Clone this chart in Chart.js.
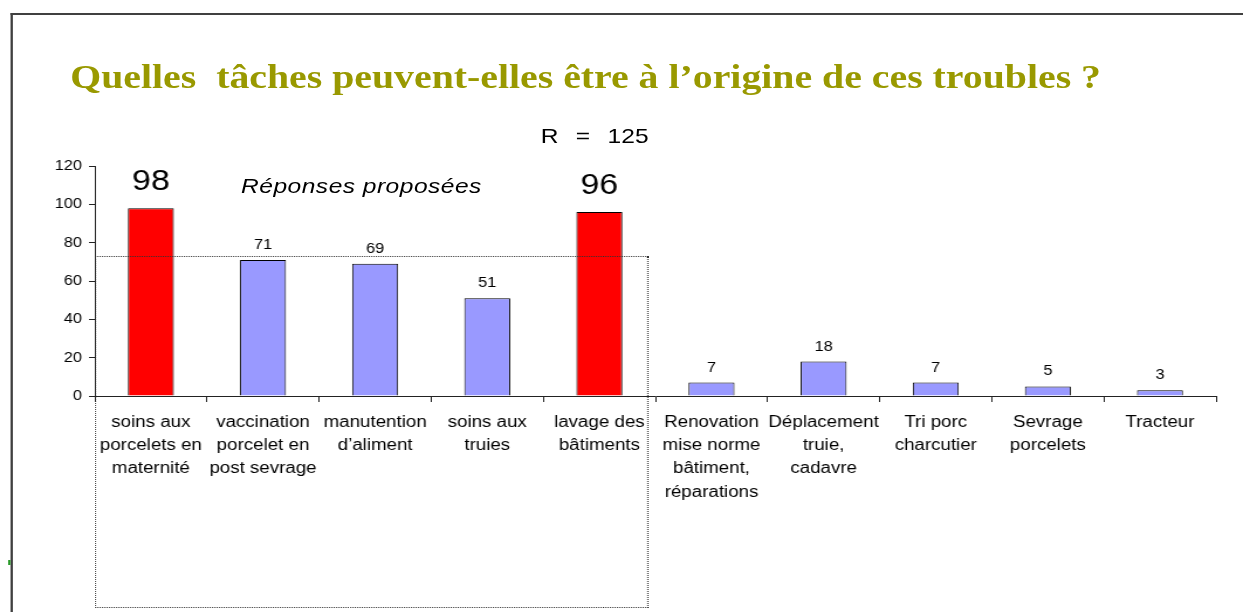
<!DOCTYPE html>
<html>
<head>
<meta charset="utf-8">
<script src="https://cdn.jsdelivr.net/npm/chart.js@4"></script>
<style>
  html, body { margin: 0; padding: 0; background: #fff; overflow: hidden; }
  /* la diapositive d'origine est étirée horizontalement : on reproduit l'étirement */
  #slide {
    position: absolute; left: 0; top: 0;
    width: 1062px; height: 612px;
    transform: scaleX(1.1704); transform-origin: 0 0;
  }
  #frame {
    position: absolute; left: 8.5px; top: 13px; width: 1100px; height: 700px;
    border-left: 2px solid #404040; border-top: 2px solid #404040;
  }
  #mark { position: absolute; left: 7px; top: 560px; width: 2px; height: 5px; background: #2a9a2a; }
  #title {
    position: absolute; left: 60px; top: 60px; white-space: nowrap;
    font-family: "Liberation Serif", serif; font-weight: bold; font-size: 34px; line-height: 1;
    color: #999900;
  }
  #resp {
    position: absolute; left: 462px; top: 125px; white-space: nowrap;
    font-family: "Liberation Sans", Arial, sans-serif; font-size: 21px; line-height: 1;
    word-spacing: 9px;
  }
  #prop {
    position: absolute; left: 206px; top: 175px; white-space: nowrap;
    font-family: "Liberation Sans", Arial, sans-serif; font-style: italic; font-size: 21px; line-height: 1;
    letter-spacing: 0.4px;
  }
  #box {
    position: absolute; left: 81px; top: 256px; width: 471px; height: 350px;
    border: 1px dotted #333; pointer-events: none;
  }
  #wrap { position: absolute; left: 0; top: 0; width: 1062px; height: 612px; }
</style>
</head>
<body>
<div id="slide">
  <div id="frame"></div>
  <div id="mark"></div>
  <div id="title">Quelles&nbsp; tâches peuvent-elles être à l’origine de ces troubles ?</div>
  <div id="resp">R = 125</div>
  <div id="prop">Réponses proposées</div>
  <div id="wrap"><canvas id="chart"></canvas></div>
  <div id="box"></div>
</div>
<script>
// Données
const categories = [
    ['soins aux', 'porcelets en', 'maternité'],
    ['vaccination', 'porcelet en', 'post sevrage'],
    ['manutention', 'd’aliment'],
    ['soins aux', 'truies'],
    ['lavage des', 'bâtiments'],
    ['Renovation', 'mise norme', 'bâtiment,', 'réparations'],
    ['Déplacement', 'truie,', 'cadavre'],
    ['Tri porc', 'charcutier'],
    ['Sevrage', 'porcelets'],
    ['Tracteur']
];
const reponses = [98, 71, 69, 51, 96, 7, 18, 7, 5, 3];
const enEvidence = [0, 4]; // barres en rouge
const yTicks = [0, 20, 40, 60, 80, 100, 120];

const couleurs = reponses.map((v, i) => enEvidence.includes(i) ? '#ff0000' : '#9999ff');
const police = '"Liberation Sans", Arial, sans-serif';

// Étiquettes de valeur au-dessus des barres
const etiquettes = {
    id: 'etiquettes',
    afterDatasetsDraw(chart) {
        const { ctx } = chart;
        const meta = chart.getDatasetMeta(0);
        ctx.save();
        ctx.fillStyle = '#000';
        ctx.textAlign = 'center';
        ctx.textBaseline = 'alphabetic';
        meta.data.forEach((bar, i) => {
            const grand = enEvidence.includes(i);
            ctx.font = (grand ? '29px ' : '14px ') + police;
            ctx.fillText(String(reponses[i]), bar.x, bar.y - (grand ? 18 : 11));
        });
        ctx.restore();
    }
};

new Chart(document.getElementById('chart'), {
    type: 'bar',
    data: {
        labels: categories,
        datasets: [{
            data: reponses,
            backgroundColor: couleurs,
            borderColor: '#000',
            borderWidth: 1,
            categoryPercentage: 1,
            barPercentage: 0.41
        }]
    },
    options: {
        responsive: true,
        maintainAspectRatio: false,
        animation: false,
        layout: { padding: { top: 166, right: 23, left: 0, bottom: 0 } },
        plugins: { legend: { display: false }, tooltip: { enabled: false } },
        scales: {
            y: {
                min: 0,
                max: 120,
                afterFit: s => { s.width = 81; },
                afterBuildTicks: s => { s.ticks = yTicks.map(v => ({ value: v })); },
                border: { display: true, color: '#222', width: 1 },
                grid: { drawOnChartArea: false, drawTicks: true, tickLength: 5, color: '#222' },
                ticks: { color: '#000', padding: 6, font: { family: police, size: 14 } }
            },
            x: {
                afterFit: s => { s.height = 216; },
                border: { display: true, color: '#222', width: 1 },
                grid: { offset: true, drawOnChartArea: false, drawTicks: true, tickLength: 6, color: '#222' },
                ticks: {
                    color: '#000', padding: 9, maxRotation: 0, autoSkip: false,
                    font: { family: police, size: 16, lineHeight: 1.45 }
                }
            }
        }
    },
    plugins: [etiquettes]
});
</script>
</body>
</html>
